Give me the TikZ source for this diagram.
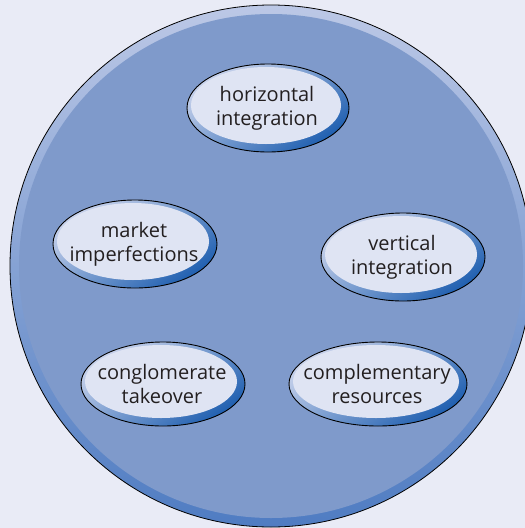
\documentclass[tikz,border=0pt]{standalone}
\usepackage{fontspec}
\setmainfont{Open Sans}
\usetikzlibrary{shapes.geometric}
\definecolor{bgc}{HTML}{E9EBF6}
\definecolor{bigfill}{HTML}{7F9ACB}
\definecolor{rimlight}{HTML}{BCC8E6}
\definecolor{rimdark}{HTML}{4F7CC2}
\definecolor{ovfill}{HTML}{DFE4F3}
\definecolor{ovlight}{HTML}{C9D3EC}
\definecolor{ovdark}{HTML}{1F5FB0}
\definecolor{txt}{HTML}{231F20}
\tikzset{
  ovtext/.style={align=center, text=txt, font=\fontsize{20}{24}\selectfont, inner sep=0pt},
}
\newcommand{\myoval}[6]{% name, x, y, rx, ry, text
  \path[draw=black, line width=0.9pt, top color=ovlight, bottom color=ovdark, shading angle=35]
    (#2,#3) ellipse [x radius=#4, y radius=#5];
  \path[fill=ovfill] (#2-2,#3-2.5) ellipse [x radius=#4-6, y radius=#5-5.5];
  \node[ovtext] (#1) at (#2-1,#3) {#6};
}
\begin{document}
\begin{tikzpicture}[x=1pt,y=-1pt]
\useasboundingbox (0,0) rectangle (525,528);
\fill[bgc] (0,0) rectangle (525,528);
\begin{scope}
\clip (0,0) rectangle (525,528);
\path[draw=black, line width=0.8pt, top color=rimlight, bottom color=rimdark]
  (271,266) circle [radius=261];
\fill[bigfill] (271,266) circle [radius=252];
\end{scope}
\myoval{hi}{268}{108}{81}{44}{horizontal\\integration}
\myoval{mi}{135}{244}{82}{44}{market\\imperfections}
\myoval{vi}{403}{257}{82}{44}{vertical\\integration}
\myoval{ct}{163}{384}{82}{42}{conglomerate\\takeover}
\myoval{cr}{378}{384}{89}{42}{complementary\\resources}
\end{tikzpicture}
\end{document}
